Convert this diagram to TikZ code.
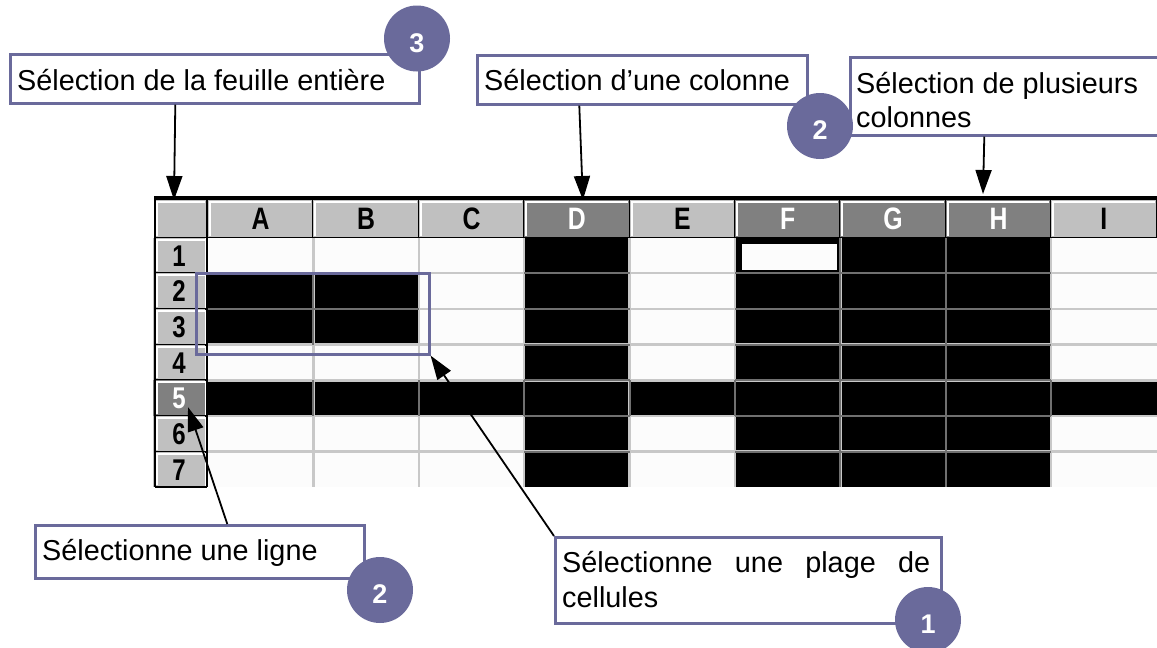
\documentclass[tikz,border=0pt]{standalone}
\usepackage{fontspec}
\setmainfont{Liberation Sans}
\newfontfamily\cellfont{Liberation Sans}[FakeStretch=0.8]
\usetikzlibrary{arrows.meta}
\definecolor{badge}{RGB}{106,106,155}
\definecolor{hdrlight}{RGB}{192,192,192}
\definecolor{hdrdark}{RGB}{128,128,128}
\definecolor{gridlight}{RGB}{200,200,200}
\definecolor{griddark}{RGB}{112,112,112}
\definecolor{cellwhite}{RGB}{252,252,252}
\begin{document}
\begin{tikzpicture}[x=1pt,y=-1pt,
  callout/.style={draw=badge, line width=2.6pt, fill=white, inner sep=0pt, anchor=north west},
  lbl/.style={anchor=base west, inner sep=0pt, font={\fontsize{28.8}{35}\selectfont}},
  badgenode/.style={circle, fill=badge, minimum size=66pt, inner sep=0pt, text=white,
     font={\fontsize{27}{27}\selectfont\bfseries}, text height=27.4pt, text depth=0pt},
  arr/.style={line width=1.8pt, -{Triangle[length=24pt,width=16pt]}},
  hdrcell/.style={rectangle, inner sep=0pt, outer sep=0pt, minimum height=37.5pt,
     font={\cellfont\bfseries\fontsize{31}{31}\selectfont}, text height=22pt, text depth=0pt},
  rowcell/.style={rectangle, inner sep=0pt, outer sep=0pt, minimum width=52pt, minimum height=35.7pt,
     font={\cellfont\bfseries\fontsize{30}{30}\selectfont}, text height=21.5pt, text depth=0pt},
  gl/.style={draw=gridlight, line width=2.5pt},
  dl/.style={draw=griddark, line width=2pt}
]
\useasboundingbox (0,0) rectangle (1157,648);
\fill[white] (0,0) rectangle (1157,648);

% ---------------- spreadsheet ----------------
\begin{scope}
\clip (150,190) rectangle (1157,487);
\fill[cellwhite] (207,237.5) rectangle (1157,487);
% black (selected) cells
\fill[black] (524.2,237.5) rectangle (629.6,487);
\fill[black] (735,237.5) rectangle (1051.2,487);
\fill[black] (207,380.3) rectangle (1157,416);
\fill[black] (208,273.2) rectangle (418.8,344.6);
% light grid
\foreach \i in {1,...,8} \draw[gl] (208+105.4*\i,237.5) -- (208+105.4*\i,487);
\foreach \j in {1,...,6} \draw[gl] (207,237.5+35.7*\j) -- (1157,237.5+35.7*\j);
% dark grid inside selections
\foreach \j in {1,...,6} {
  \draw[dl] (524.2,237.5+35.7*\j) -- (629.6,237.5+35.7*\j);
  \draw[dl] (735,237.5+35.7*\j) -- (1051.2,237.5+35.7*\j);
}
\draw[dl] (840.4,237.5) -- (840.4,487);
\draw[dl] (945.8,237.5) -- (945.8,487);
\foreach \i in {1,...,8} \draw[dl] (208+105.4*\i,380.3) -- (208+105.4*\i,416);
\draw[dl] (313.4,273.2) -- (313.4,344.6);
\draw[dl] (208,308.9) -- (418.8,308.9);
% active cell F1
\filldraw[fill=cellwhite, draw=black, line width=1pt] (741,243.5) rectangle (837.5,270.5);

% header row
\fill[black] (155,195.5) rectangle (1157,200);
\node[hdrcell, fill=hdrlight, minimum width=52pt] (hc) at (181,218.75) {};
\draw[white, line width=2pt] (157,236) -- (157,201.5) -- (205,201.5);
\foreach \L/\fc/\tc [count=\i] in {A/hdrlight/black,B/hdrlight/black,C/hdrlight/black,
   D/hdrdark/white,E/hdrlight/black,F/hdrdark/white,G/hdrdark/white,H/hdrdark/white,I/hdrlight/black}{
  \pgfmathsetmacro\xl{208+105.4*(\i-1)}
  \node[hdrcell, fill=\fc, text=\tc, minimum width=105.4pt] (h\L) at (\xl+52.7,218.75) {\L};
  \draw[white, line width=2pt] (\xl+2,236) -- (\xl+2,201.5) -- (\xl+103.4,201.5);
  \draw[black, line width=2pt] (\xl+105.4,200) -- (\xl+105.4,237.5);
}
\draw[black, line width=2pt] (207,200) -- (207,237.5);
\draw[black, line width=1.5pt] (155,237.5) -- (1157,237.5);

% row headers
\foreach \r/\fc/\tc in {1/hdrlight/black,2/hdrlight/black,3/hdrlight/black,4/hdrlight/black,
   5/hdrdark/white,6/hdrlight/black,7/hdrlight/black}{
  \pgfmathsetmacro\yt{237.5+35.7*(\r-1)}
  \node[rowcell, fill=\fc, text=\tc] (rh\r) at (179,\yt+17.85) {\r};
  \draw[white, line width=2pt] (157,\yt+33.7) -- (157,\yt+2) -- (205,\yt+2);
  \draw[black, line width=2pt] (155,\yt+35.7) -- (207,\yt+35.7);
}
\draw[black, line width=2pt] (155,196) -- (155,487);
\draw[black, line width=2pt] (207,200) -- (207,487);
\end{scope}

% selection outline A2:B3
\node[draw=badge, line width=2.6pt, minimum width=233pt, minimum height=81pt, inner sep=0pt,
      anchor=north west] (sel) at (195,272) {};

% ---------------- callouts ----------------
\node[callout, minimum width=409pt, minimum height=49pt] (boxA) at (9,53) {};
\node[lbl] (txtA) at (17,90) {Sélection de la feuille entière};

\node[callout, minimum width=330pt, minimum height=49pt] (boxB) at (476,54) {};
\node[lbl] (txtB) at (484,90) {Sélection d’une colonne};

\node[callout, minimum width=316pt, minimum height=78pt] (boxC) at (849,56) {};
\node[lbl] (txtC1) at (856,93) {Sélection de plusieurs};
\node[lbl] (txtC2) at (856,127) {colonnes};

\node[callout, minimum width=329pt, minimum height=53pt] (boxE) at (34,524) {};
\node[lbl] (txtE) at (42,560) {Sélectionne une ligne};

\node[callout, minimum width=386pt, minimum height=86pt] (boxD) at (554,536) {};
\node[lbl] (txtD1) at (562,572) {\makebox[368pt][s]{Sélectionne une plage de}};
\node[lbl] (txtD2) at (562,607) {cellules};

% ---------------- arrows ----------------
\draw[arr] ([xshift=-39.5pt]boxA.south) -- ([xshift=-7pt]hc.north);
\draw[arr] ([xshift=-63pt]boxB.south) -- ([xshift=6pt]hD.north);
\draw[arr] ([xshift=-24pt]boxC.south) -- ([xshift=-15.5pt,yshift=6pt]hH.north);
\draw[arr] (boxD.north west) -- (sel.south east);
\draw[arr] ([xshift=27.5pt]boxE.north) -- ([xshift=9pt,yshift=-9pt]rh5.center);

% ---------------- badges ----------------
\node[badgenode] (b3) at (417,38.5) {3};
\node[badgenode] (b2a) at (820,126) {2};
\node[badgenode] (b2b) at (380,590) {2};
\node[badgenode] (b1) at (928,620) {1};
\end{tikzpicture}
\end{document}
